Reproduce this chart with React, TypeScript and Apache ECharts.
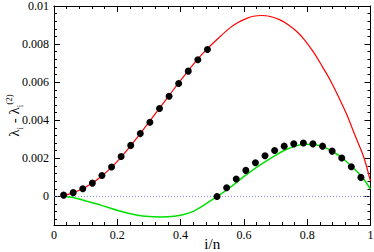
import React, { useEffect, useRef } from "react";
import * as echarts from "echarts";

// dot positions i/n (n = 33)
const dotX = [
  0.0303, 0.0606, 0.0909, 0.1212, 0.1515, 0.1818, 0.2121, 0.2424, 0.2727, 0.303, 0.3333,
  0.3636, 0.3939, 0.4242, 0.4545, 0.4848, 0.5152, 0.5455, 0.5758, 0.6061, 0.6364, 0.6667,
  0.697, 0.7273, 0.7576, 0.7879, 0.8182, 0.8485, 0.8788, 0.9091, 0.9394, 0.9697,
];
const dotY = [
  0.00007, 0.0002, 0.0004, 0.0007, 0.0011, 0.00155, 0.0021, 0.00268, 0.0033, 0.0039, 0.00462,
  0.00526, 0.00593, 0.00658, 0.00718, 0.00772, 0.0, 0.00046, 0.00092, 0.00137, 0.00177, 0.00214,
  0.00241, 0.00264, 0.00276, 0.00281, 0.00276, 0.00264, 0.00238, 0.00202, 0.00156, 0.001,
];

const redX = [
  0.03, 0.06, 0.09, 0.12, 0.15, 0.18, 0.21, 0.24, 0.27, 0.3, 0.33, 0.36, 0.39, 0.42, 0.45, 0.48,
  0.52, 0.556, 0.58, 0.609, 0.63, 0.656, 0.68, 0.714, 0.74, 0.767, 0.79, 0.819, 0.845, 0.872, 0.9,
  0.925, 0.95, 0.978, 1.0,
];
const redY = [
  0.00005, 0.00019, 0.0004, 0.00069, 0.00106, 0.0015, 0.00203, 0.00262, 0.00325, 0.0039, 0.00456,
  0.00522, 0.00588, 0.00652, 0.00713, 0.00768, 0.00832, 0.00885, 0.00912, 0.00935, 0.00946, 0.0095,
  0.00946, 0.00927, 0.00902, 0.00866, 0.00825, 0.0076, 0.0069, 0.00613, 0.0052, 0.0043, 0.00325,
  0.0021, 0.0008,
];

const greenX = [
  0.03, 0.06, 0.105, 0.15, 0.21, 0.26, 0.3, 0.337, 0.38, 0.41, 0.442, 0.47, 0.493, 0.516, 0.547,
  0.577, 0.608, 0.64, 0.669, 0.7, 0.73, 0.76, 0.79, 0.82, 0.851, 0.88, 0.911, 0.94, 0.972, 1.0,
];
const greenY = [
  0.0, -0.00006, -0.00026, -0.00047, -0.00078, -0.00097, -0.00106, -0.00108, -0.00104, -0.00095,
  -0.00077, -0.0005, -0.00025, 0.0, 0.00036, 0.00074, 0.00114, 0.00152, 0.00184, 0.00216, 0.00244,
  0.00263, 0.00274, 0.00273, 0.0026, 0.00236, 0.00202, 0.00158, 0.00105, 0.00039,
];

const zeroX = [0, 1];
const zeroY = [0, 0];

const FONT = "Liberation Serif";

export default function App() {
  const ref = useRef<HTMLDivElement>(null);
  useEffect(() => {
    const chart = echarts.init(ref.current!, undefined, { renderer: "svg" });
    const tickCommon = {
      axisLine: { show: true, onZero: false, lineStyle: { color: "#000", width: 1 } },
      axisTick: { show: true, inside: true, length: 6, lineStyle: { color: "#000" } },
      minorTick: { show: true, splitNumber: 5, length: 3, lineStyle: { color: "#000" } },
      splitLine: { show: false },
    };
    const fmtY = (v: number) => (v < -0.0001 ? "" : String(parseFloat(v.toFixed(4))));
    chart.setOption({
      animation: false,
      textStyle: { fontFamily: FONT },
      grid: {
        left: 54,
        right: 3.5,
        top: 6,
        bottom: 27,
        containLabel: false,
        outerBoundsMode: "none",
      },
      xAxis: [
        {
          type: "value",
          min: 0,
          max: 1,
          interval: 0.2,
          position: "bottom",
          ...tickCommon,
          axisLabel: { color: "#000", fontFamily: FONT, fontSize: 12, margin: 4 },
          name: "i/n",
          nameLocation: "middle",
          nameGap: 11,
          nameMoveOverlap: false,
          nameTextStyle: { color: "#000", fontFamily: FONT, fontSize: 15 },
        },
        {
          type: "value",
          min: 0,
          max: 1,
          interval: 0.2,
          position: "top",
          ...tickCommon,
          axisLabel: { show: false },
        },
      ],
      yAxis: [
        {
          type: "value",
          min: -0.0015,
          max: 0.01,
          splitNumber: 5,
          position: "left",
          ...tickCommon,
          axisLabel: {
            color: "#000",
            fontFamily: FONT,
            fontSize: 12,
            margin: 5,
            formatter: fmtY,
          },
          name: "{m|λ}{s|i}{m| - λ}{s|i}{p|(2)}",
          nameLocation: "middle",
          nameRotate: 90,
          nameGap: 30,
          nameMoveOverlap: false,
          nameTextStyle: {
            color: "#000",
            fontFamily: FONT,
            fontSize: 15,
            rich: {
              m: { fontSize: 15, fontFamily: FONT, color: "#000", lineHeight: 20 },
              s: { fontSize: 9, fontFamily: FONT, color: "#000", lineHeight: 10, verticalAlign: "bottom" },
              p: { fontSize: 9, fontFamily: FONT, color: "#000", lineHeight: 10, verticalAlign: "top" },
            },
          },
        },
        {
          type: "value",
          min: -0.0015,
          max: 0.01,
          splitNumber: 5,
          position: "right",
          ...tickCommon,
          axisLabel: { show: false },
        },
      ],
      series: [
        {
          type: "line",
          data: zeroX.map((x, i) => [x, zeroY[i]]),
          showSymbol: false,
          lineStyle: { color: "#7f7fff", width: 1, type: [1, 2] },
          silent: true,
          z: 1,
        },
        {
          type: "line",
          data: redX.map((x, i) => [x, redY[i]]),
          showSymbol: false,
          smooth: 0.3,
          lineStyle: { color: "#ff0000", width: 1.2 },
          z: 2,
        },
        {
          type: "line",
          data: greenX.map((x, i) => [x, greenY[i]]),
          showSymbol: false,
          smooth: 0.3,
          lineStyle: { color: "#00e000", width: 1.5 },
          z: 2,
        },
        {
          type: "scatter",
          data: dotX.map((x, i) => [x, dotY[i]]),
          symbol: "circle",
          symbolSize: 7,
          itemStyle: { color: "#000", opacity: 1 },
          z: 3,
        },
      ],
    });
    return () => chart.dispose();
  }, []);
  return (
    <div
      ref={ref}
      style={{ position: "absolute", left: 0, top: 0, width: 374, height: 252, background: "#fff" }}
    />
  );
}
